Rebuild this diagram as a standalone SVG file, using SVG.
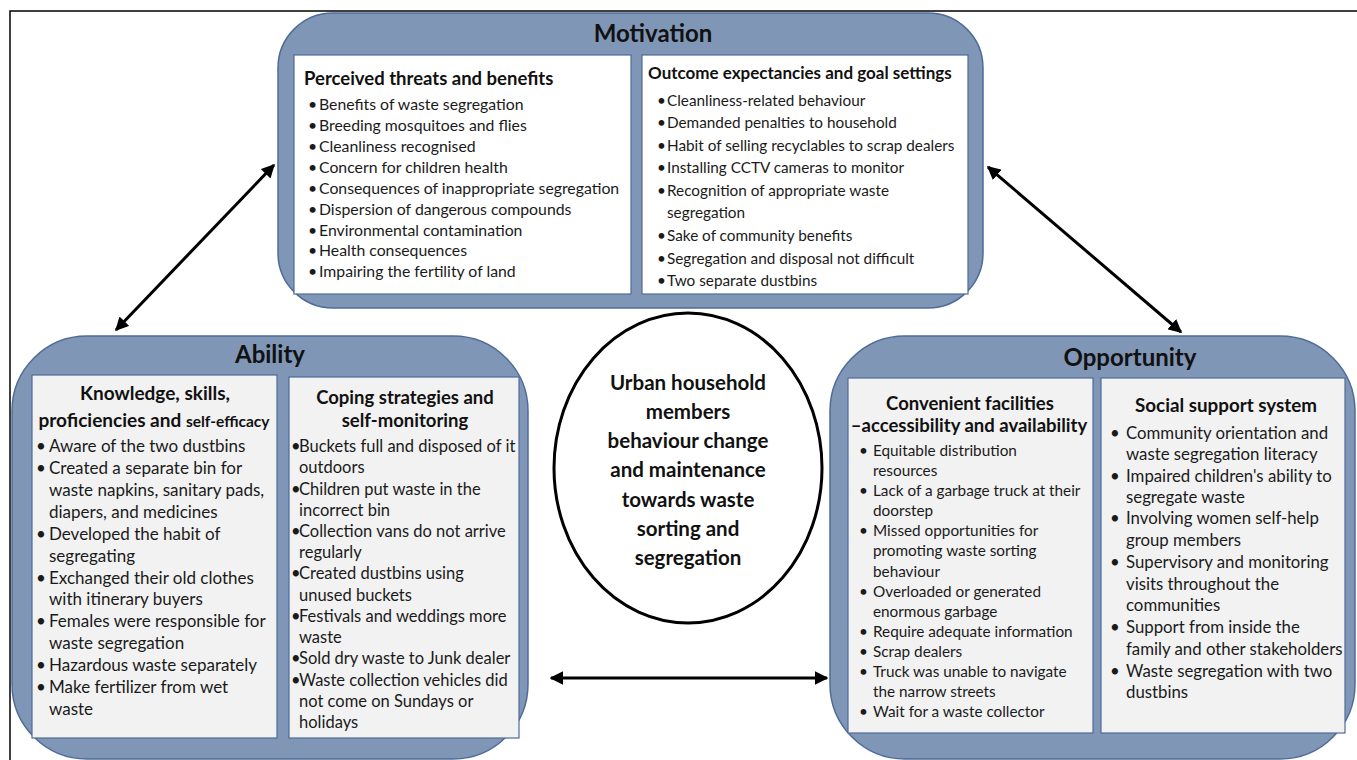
<svg xmlns="http://www.w3.org/2000/svg" width="1357" height="760" viewBox="0 0 1357 760">
<defs>
<style>
.outer{fill:#8096b6;stroke:#4f6b98;stroke-width:1.5}
.pw{fill:#ffffff;stroke:#4f6b98;stroke-width:1.2}
.pg{fill:#f2f2f2;stroke:#4f6b98;stroke-width:1.2}
.title{font-family:Lato,"Liberation Sans",sans-serif;font-weight:bold;font-size:24px;fill:#111;text-anchor:middle}
.head{font-family:Lato,"Liberation Sans",sans-serif;font-weight:bold;font-size:18px;fill:#111}
.hc{text-anchor:middle}
.itP{font-family:Lato,"Liberation Sans",sans-serif;font-size:15.8px;fill:#1a1a1a}
.itO{font-family:Lato,"Liberation Sans",sans-serif;font-size:15.3px;fill:#1a1a1a}
.itK{font-family:Lato,"Liberation Sans",sans-serif;font-size:17px;fill:#1a1a1a}
.itC{font-family:Lato,"Liberation Sans",sans-serif;font-size:16.5px;fill:#1a1a1a}
.itV{font-family:Lato,"Liberation Sans",sans-serif;font-size:15.3px;fill:#1a1a1a}
.itS{font-family:Lato,"Liberation Sans",sans-serif;font-size:16.8px;fill:#1a1a1a}
.ctr{font-family:Lato,"Liberation Sans",sans-serif;font-weight:bold;font-size:20.5px;fill:#111;text-anchor:middle}
.conn{stroke:#000;stroke-width:3;fill:none;marker-start:url(#ah);marker-end:url(#ah)}
</style>
<marker id="ah" viewBox="0 0 10 10" refX="9" refY="5" markerWidth="4.5" markerHeight="4.5" orient="auto-start-reverse" markerUnits="strokeWidth">
<path d="M0,0 L10,5 L0,10 Z" fill="#000"/>
</marker>
</defs>
<rect width="1357" height="760" fill="#fff"/>
<path d="M10,760 L10,11 L1357,11" fill="none" stroke="#000" stroke-width="1.5"/>

<g id="connectors">
<line class="conn" x1="116" y1="330" x2="274" y2="165"/>
<line class="conn" x1="988" y1="167" x2="1181" y2="332"/>
<line class="conn" x1="551" y1="678" x2="827" y2="678"/>
</g>

<g id="motivation">
<rect class="outer" x="278" y="13" width="705" height="295" rx="55" ry="55"/>
<text class="title" x="653" y="42">Motivation</text>
<rect class="pw" x="294" y="55" width="337" height="239"/>
<text class="head" x="304" y="85" style="font-size:18.5px">Perceived threats and benefits</text>
<g class="itP">
<text x="308" y="110">•</text><text x="319" y="110">Benefits of waste segregation</text>
<text x="308" y="131">•</text><text x="319" y="131">Breeding mosquitoes and flies</text>
<text x="308" y="152">•</text><text x="319" y="152">Cleanliness recognised</text>
<text x="308" y="173">•</text><text x="319" y="173">Concern for children health</text>
<text x="308" y="194">•</text><text x="319" y="194">Consequences of inappropriate segregation</text>
<text x="308" y="215">•</text><text x="319" y="215">Dispersion of dangerous compounds</text>
<text x="308" y="236">•</text><text x="319" y="236">Environmental contamination</text>
<text x="308" y="256">•</text><text x="319" y="256">Health consequences</text>
<text x="308" y="277">•</text><text x="319" y="277">Impairing the fertility of land</text>
</g>
<rect class="pw" x="642" y="55" width="326" height="239"/>
<text class="head" x="648" y="79" style="font-size:17px">Outcome expectancies and goal settings</text>
<g class="itO">
<text x="657" y="106">•</text><text x="667" y="106">Cleanliness-related behaviour</text>
<text x="657" y="128">•</text><text x="667" y="128">Demanded penalties to household</text>
<text x="657" y="151">•</text><text x="667" y="151">Habit of selling recyclables to scrap dealers</text>
<text x="657" y="173">•</text><text x="667" y="173">Installing CCTV cameras to monitor</text>
<text x="657" y="196">•</text><text x="667" y="196">Recognition of appropriate waste</text>
<text x="667" y="218">segregation</text>
<text x="657" y="241">•</text><text x="667" y="241">Sake of community benefits</text>
<text x="657" y="264">•</text><text x="667" y="264">Segregation and disposal not difficult</text>
<text x="657" y="286">•</text><text x="667" y="286">Two separate dustbins</text>
</g>
</g>

<g id="ability">
<rect class="outer" x="12" y="336" width="516" height="423" rx="75" ry="75"/>
<text class="title" x="270" y="363">Ability</text>
<rect class="pg" x="32" y="375" width="245" height="363"/>
<text class="head hc" x="155" y="400" style="font-size:19px">Knowledge, skills,</text>
<text class="head hc" x="154" y="427" style="font-size:19px">proficiencies and <tspan style="font-size:15.5px">self-efficacy</tspan></text>
<g class="itK">
<text x="36" y="452">•</text><text x="49" y="452">Aware of the two dustbins</text>
<text x="36" y="474">•</text><text x="49" y="474">Created a separate bin for</text>
<text x="49" y="496">waste napkins, sanitary pads,</text>
<text x="49" y="518">diapers, and medicines</text>
<text x="36" y="540">•</text><text x="49" y="540">Developed the habit of</text>
<text x="49" y="562">segregating</text>
<text x="36" y="584">•</text><text x="49" y="584">Exchanged their old clothes</text>
<text x="49" y="605">with itinerary buyers</text>
<text x="36" y="627">•</text><text x="49" y="627">Females were responsible for</text>
<text x="49" y="649">waste segregation</text>
<text x="36" y="671">•</text><text x="49" y="671">Hazardous waste separately</text>
<text x="36" y="693">•</text><text x="49" y="693">Make fertilizer from wet</text>
<text x="49" y="715">waste</text>
</g>
<rect class="pg" x="289" y="377" width="230" height="361"/>
<text class="head hc" x="405" y="404" style="font-size:18.5px">Coping strategies and</text>
<text class="head hc" x="405" y="427" style="font-size:18.5px">self-monitoring</text>
<g class="itC">
<text x="291" y="452">•</text><text x="299" y="452">Buckets full and disposed of it</text>
<text x="299" y="473.2">outdoors</text>
<text x="291" y="494.5">•</text><text x="299" y="494.5">Children put waste in the</text>
<text x="299" y="515.7">incorrect bin</text>
<text x="291" y="536.9">•</text><text x="299" y="536.9">Collection vans do not arrive</text>
<text x="299" y="558.2">regularly</text>
<text x="291" y="579.4">•</text><text x="299" y="579.4">Created dustbins using</text>
<text x="299" y="600.6">unused buckets</text>
<text x="291" y="621.8">•</text><text x="299" y="621.8">Festivals and weddings more</text>
<text x="299" y="643.1">waste</text>
<text x="291" y="664.3">•</text><text x="299" y="664.3">Sold dry waste to Junk dealer</text>
<text x="291" y="685.5">•</text><text x="299" y="685.5">Waste collection vehicles did</text>
<text x="299" y="706.8">not come on Sundays or</text>
<text x="299" y="728">holidays</text>
</g>
</g>

<g id="center">
<ellipse cx="688" cy="468" rx="134" ry="155" fill="#fff" stroke="#000" stroke-width="3"/>
<text class="ctr" x="688" y="390">Urban household</text>
<text class="ctr" x="688" y="419">members</text>
<text class="ctr" x="688" y="448">behaviour change</text>
<text class="ctr" x="688" y="477">and maintenance</text>
<text class="ctr" x="688" y="507">towards waste</text>
<text class="ctr" x="688" y="536">sorting and</text>
<text class="ctr" x="688" y="565">segregation</text>
</g>

<g id="opportunity">
<rect class="outer" x="830" y="336" width="525" height="423" rx="75" ry="75"/>
<text class="title" x="1130" y="366">Opportunity</text>
<rect class="pg" x="848" y="378" width="245" height="355"/>
<text class="head hc" x="970" y="410" style="font-size:18.5px">Convenient facilities</text>
<text class="head hc" x="969" y="432" style="font-size:18.5px">–accessibility and availability</text>
<g class="itV">
<text x="859" y="456">•</text><text x="873" y="456">Equitable distribution</text>
<text x="873" y="476">resources</text>
<text x="859" y="496.2">•</text><text x="873" y="496.2">Lack of a garbage truck at their</text>
<text x="873" y="516.2">doorstep</text>
<text x="859" y="536.3">•</text><text x="873" y="536.3">Missed opportunities for</text>
<text x="873" y="556.4">promoting waste sorting</text>
<text x="873" y="576.5">behaviour</text>
<text x="859" y="596.6">•</text><text x="873" y="596.6">Overloaded or generated</text>
<text x="873" y="616.6">enormous garbage</text>
<text x="859" y="636.7">•</text><text x="873" y="636.7">Require adequate information</text>
<text x="859" y="656.8">•</text><text x="873" y="656.8">Scrap dealers</text>
<text x="859" y="676.9">•</text><text x="873" y="676.9">Truck was unable to navigate</text>
<text x="873" y="697">the narrow streets</text>
<text x="859" y="717">•</text><text x="873" y="717">Wait for a waste collector</text>
</g>
<rect class="pg" x="1101" y="378" width="244" height="355"/>
<text class="head hc" x="1226" y="412" style="font-size:18.8px">Social support system</text>
<g class="itS">
<text x="1110" y="439">•</text><text x="1126" y="439">Community orientation and</text>
<text x="1126" y="460">waste segregation literacy</text>
<text x="1110" y="482">•</text><text x="1126" y="482">Impaired children's ability to</text>
<text x="1126" y="503">segregate waste</text>
<text x="1110" y="524">•</text><text x="1126" y="524">Involving women self-help</text>
<text x="1126" y="546">group members</text>
<text x="1110" y="568">•</text><text x="1126" y="568">Supervisory and monitoring</text>
<text x="1126" y="590">visits throughout the</text>
<text x="1126" y="611">communities</text>
<text x="1110" y="633">•</text><text x="1126" y="633">Support from inside the</text>
<text x="1126" y="655">family and other stakeholders</text>
<text x="1110" y="677">•</text><text x="1126" y="677">Waste segregation with two</text>
<text x="1126" y="698">dustbins</text>
</g>
</g>
</svg>
